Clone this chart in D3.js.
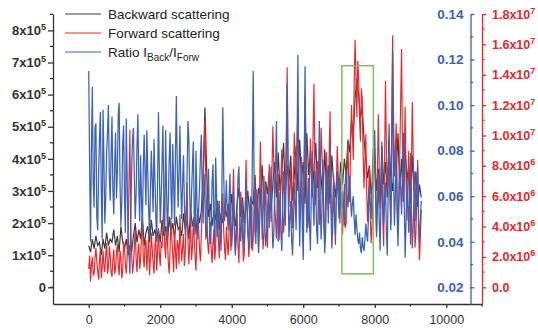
<!DOCTYPE html>
<html>
<head>
<meta charset="utf-8">
<script src="https://cdn.jsdelivr.net/npm/d3@7"></script>
<style>
  body { margin: 0; background: #fff; }
  svg { font-family: "Liberation Sans", Arial, sans-serif; }
</style>
</head>
<body>
<svg id="chart" width="538" height="330"></svg>
<script>
// sample spacing along x (index -> x = i * step)
const backStep = 50;
const fwdStep = 25;
const ratioStep = 25;

// backward scattering, units of 1e5 (left axis)
const backward = [
  1.3,1.1,1.5,1.2,1.6,1.3,1.4,1.0,1.5,1.2,1.7,1.3,1.5,
  1.4,1.8,1.3,1.6,1.1,1.9,1.4,1.2,1.5,1.0,1.3,1.1,
  1.6,2.0,1.4,1.8,1.5,2.2,1.3,1.7,1.9,1.4,2.1,1.6,1.8,1.5,
  1.8,1.4,2.1,1.6,1.9,1.3,2.2,1.7,2.0,1.5,2.2,1.8,
  1.9,1.6,2.3,1.8,2.1,1.5,2.4,1.9,2.2,1.7,2.4,2.0,
  2.4,3.5,5.6,3.6,2.2,2.6,1.9,2.4,2.1,2.7,1.8,2.3,2.0,2.5,2.2,
  2.6,2.1,2.9,2.3,1.9,2.6,3.1,2.2,2.8,2.0,2.5,3.0,2.3,2.7,
  2.6,3.5,2.3,3.1,2.8,3.8,2.5,3.3,2.9,3.6,2.4,3.2,3.9,
  2.8,4.2,3.0,3.6,4.5,2.9,3.8,3.3,4.1,2.7,3.5,4.4,
  3.0,4.6,3.4,3.9,2.6,4.8,3.5,4.2,2.8,3.7,4.5,3.1,4.0,
  3.4,2.7,4.3,3.0,3.8,2.6,4.1,3.3,2.8,3.6,3.0,3.9,
  3.2,4.0,3.5,4.6,4.2,5.2,4.8,5.9,6.5,
  6.0,5.3,5.6,4.6,4.0,3.4,3.8,2.9,3.3,
  4.1,3.0,3.7,2.6,4.4,3.2,3.9,2.8,4.5,3.4,3.0,
  4.2,3.6,4.8,3.1,4.0,2.7,4.4,3.3,3.8,2.6,4.1,3.0,3.6,2.5,3.2,2.8
];

// forward scattering, units of 1e6 (red axis)
const forward = [
  1.2,2.1,0.4,1.5,2.0,0.8,0.9,1.9,2.6,1.7,1.1,0.5,1.8,2.5,0.6,1.3,2.4,1.4,1.0,2.2,2.9,0.9,1.3,2.7,2.1,
  1.0,0.7,1.8,2.5,0.9,1.2,2.3,2.8,1.4,0.8,2.4,1.9,0.6,1.1,3.0,2.6,1.5,0.9,2.0,3.5,6.8,10.4,4.1,2.2,
  0.9,1.5,2.6,3.8,1.9,1.0,2.4,2.9,1.2,1.8,3.5,4.4,2.0,1.3,2.8,3.1,1.1,2.2,3.3,0.8,1.9,3.6,2.5,1.6,0.9,2.7,3.4,1.1,
  2.3,3.9,2.2,1.4,3.0,2.6,4.1,5.8,2.7,1.9,4.0,3.3,1.6,0.9,2.5,4.6,3.2,2.1,1.0,3.7,2.4,1.2,3.1,2.8,
  1.5,4.8,3.0,1.7,2.6,3.5,1.4,2.3,4.4,6.9,3.1,1.5,2.9,4.1,1.8,2.6,4.5,3.2,2.0,1.1,3.6,5.2,3.8,2.4,
  1.7,3.6,5.2,7.4,8.8,11.0,6.7,5.1,3.0,2.2,3.4,4.3,2.5,1.6,2.9,3.8,1.8,2.7,4.6,5.5,3.3,1.9,4.1,3.0,4.8,6.2,3.7,2.5,1.8,4.0,
  2.9,2.1,3.8,5.7,2.4,3.3,5.6,7.8,4.5,2.4,3.6,4.9,2.8,1.6,4.2,6.3,4.9,3.6,1.7,2.2,5.3,8.4,6.0,4.2,2.0,2.9,4.4,5.8,
  2.4,3.1,5.4,7.2,3.6,4.5,6.1,2.3,5.9,9.6,7.0,5.0,2.5,3.4,5.2,6.8,4.0,2.6,5.4,8.1,6.3,4.3,7.7,10.6,8.2,5.5,
  4.4,3.2,5.8,7.5,3.1,4.8,7.0,9.1,5.2,3.6,4.7,6.4,9.8,14.5,8.9,5.3,6.6,8.0,5.1,3.9,7.4,10.2,8.5,6.1,
  9.3,11.8,7.1,5.0,6.2,8.6,5.5,3.7,8.2,12.6,9.4,7.2,3.9,4.5,7.3,9.8,8.1,6.0,10.2,13.4,8.0,5.4,6.9,8.3,5.9,4.1,
  7.6,10.5,8.7,6.6,4.6,3.2,6.1,8.9,6.9,5.1,8.8,11.6,6.3,4.0,5.2,7.4,4.5,2.8,6.4,9.3,7.7,5.9,4.2,7.0,
  5.0,3.5,5.3,6.8,3.9,4.2,7.6,9.5,6.8,5.6,9.3,12.0,10.1,8.4,13.5,16.3,13.9,11.2,
  14.9,13.8,11.0,9.6,13.1,12.4,8.7,6.5,8.4,10.1,6.2,4.3,5.9,7.9,4.6,2.9,4.1,5.8,
  7.5,9.2,5.7,3.6,7.8,11.4,7.9,5.2,6.1,8.0,4.4,2.7,8.3,13.6,9.2,6.4,7.7,9.9,5.8,4.1,10.8,16.6,
  11.5,7.3,9.1,10.8,6.0,3.9,6.4,8.6,12.3,15.7,9.2,5.6,8.7,11.9,7.0,4.4,6.3,9.0,5.5,2.8,7.6,12.2,8.8,6.2,2.6,3.5,6.0,8.4,4.2,1.8,3.3,5.1
];

// ratio I_back / I_forw (blue axis)
const ratio = [
  0.115,0.072,0.040,0.081,0.108,0.066,0.055,0.090,0.092,0.051,0.045,0.070,0.085,0.097,0.062,0.041,0.098,0.075,0.048,0.060,0.079,0.088,0.100,0.069,0.058,
  0.078,0.095,0.063,0.052,0.074,0.088,0.059,0.070,0.096,0.101,0.066,0.047,0.058,0.083,0.091,0.060,0.044,0.094,0.067,0.043,0.035,0.026,0.049,0.072,
  0.085,0.090,0.068,0.050,0.061,0.082,0.096,0.064,0.049,0.078,0.059,0.045,0.072,0.087,0.070,0.056,0.089,0.071,0.055,0.042,0.063,0.080,0.067,0.053,0.085,0.068,0.052,0.040,
  0.066,0.097,0.071,0.048,0.059,0.075,0.091,0.058,0.042,0.089,0.063,0.044,0.057,0.076,0.088,0.062,0.050,0.083,0.066,0.047,0.078,0.104,0.074,0.055,
  0.070,0.091,0.064,0.050,0.066,0.078,0.057,0.043,0.054,0.069,0.093,0.085,0.060,0.046,0.061,0.073,0.084,0.052,0.043,0.080,0.058,0.041,0.055,0.064,
  0.078,0.087,0.061,0.048,0.070,0.060,0.041,0.044,0.057,0.072,0.050,0.039,0.048,0.066,0.074,0.051,0.038,0.077,0.060,0.042,0.053,0.058,0.045,0.036,0.065,0.099,0.070,0.049,0.056,0.067,
  0.052,0.045,0.058,0.070,0.049,0.038,0.047,0.062,0.044,0.034,0.041,0.055,0.068,0.073,0.052,0.040,0.047,0.058,0.042,0.036,0.050,0.066,0.055,0.043,0.039,0.052,0.060,0.037,
  0.075,0.115,0.068,0.044,0.039,0.063,0.049,0.035,0.046,0.057,0.064,0.041,0.052,0.069,0.047,0.038,0.044,0.054,0.062,0.046,0.059,0.073,0.050,0.037,0.043,0.060,
  0.072,0.093,0.058,0.040,0.051,0.062,0.044,0.036,0.055,0.071,0.062,0.047,0.074,0.109,0.065,0.042,0.050,0.058,0.041,0.034,0.047,0.066,0.057,0.045,
  0.080,0.122,0.064,0.038,0.056,0.075,0.046,0.032,0.068,0.117,0.072,0.044,0.053,0.068,0.048,0.036,0.061,0.080,0.058,0.047,0.071,0.063,0.045,0.039,0.064,0.093,
  0.057,0.041,0.055,0.076,0.049,0.035,0.044,0.060,0.071,0.048,0.063,0.082,0.055,0.037,0.048,0.066,0.052,0.043,0.059,0.071,0.060,0.050,0.068,0.058,
  0.049,0.062,0.054,0.047,0.066,0.072,0.060,0.055,0.063,0.069,0.058,0.051,0.057,0.060,0.050,0.043,0.052,0.046,
  0.041,0.039,0.044,0.037,0.035,0.042,0.038,0.036,0.041,0.048,0.043,0.040,0.052,0.064,0.056,0.050,0.066,0.078,
  0.083,0.089,0.061,0.042,0.055,0.070,0.050,0.036,0.058,0.084,0.064,0.048,0.057,0.066,0.045,0.034,0.062,0.092,0.067,0.045,0.078,0.124,
  0.070,0.047,0.060,0.081,0.052,0.038,0.054,0.072,0.063,0.052,0.070,0.088,0.056,0.033,0.049,0.067,0.058,0.044,0.061,0.079,0.052,0.037,0.046,0.062,0.071,0.049,0.060,0.074,0.051,0.040,0.048,0.058
];

const xTicks = [0, 2000, 4000, 6000, 8000, 10000];
const xMinor = [1000, 3000, 5000, 7000, 9000, 11000];
const backTicks = [0, 1, 2, 3, 4, 5, 6, 7, 8];            // x 1e5
const ratioTicks = [0.02, 0.04, 0.06, 0.08, 0.10, 0.12, 0.14];
const ratioMinor = [0.03, 0.05, 0.07, 0.09, 0.11, 0.13];
const fwdTicks = [0, 2, 4, 6, 8, 10, 12, 14, 16, 18];      // x 1e6
const fwdMinor = [1, 3, 5, 7, 9, 11, 13, 15, 17];
const highlight = { x0: 7080, x1: 7960, y0: 0.42e5, y1: 6.9e5 };

const colBlack = "#3b3b3b", colRed = "#e8262c", colBlue = "#3a62b6", colAxis = "#333";

const svg = d3.select("#chart");

const x = d3.scaleLinear([-1000, 11000], [53, 482]);
const yBack = d3.scaleLinear([-0.52e5, 8.51e5], [304, 14]);
const yRatio = d3.scaleLinear([0.01266, 0.14], [304, 14]);
const yFwd = d3.scaleLinear([-1.1e6, 1.8e7], [304, 14]);

// series
const lineBack = d3.line().x((d, i) => x(i * backStep)).y(d => yBack(d * 1e5));
const lineFwd = d3.line().x((d, i) => x(i * fwdStep)).y(d => yFwd(d * 1e6));
const lineRatio = d3.line().x((d, i) => x(i * ratioStep)).y(d => yRatio(d));

svg.append("path").attr("d", lineBack(backward))
  .attr("fill", "none").attr("stroke", colBlack).attr("stroke-width", 1.2);
svg.append("path").attr("d", lineFwd(forward))
  .attr("fill", "none").attr("stroke", colRed).attr("stroke-width", 1.15);
svg.append("path").attr("d", lineRatio(ratio))
  .attr("fill", "none").attr("stroke", colBlue).attr("stroke-width", 1.25);

// green box
svg.append("rect")
  .attr("x", x(highlight.x0)).attr("y", yBack(highlight.y1))
  .attr("width", x(highlight.x1) - x(highlight.x0))
  .attr("height", yBack(highlight.y0) - yBack(highlight.y1))
  .attr("fill", "none").attr("stroke", "#7cc35b").attr("stroke-width", 1.5);

function styleAxis(g, color) {
  g.select(".domain").attr("stroke", color).attr("stroke-width", 1.3);
  g.selectAll("line").attr("stroke", color).attr("stroke-width", 1.3);
  g.attr("font-family", null);
}

function supLabel(sel, base, exp) {
  sel.text(null);
  sel.append("tspan").text(base);
  if (exp !== null) {
    sel.append("tspan").attr("dy", -5).attr("font-size", "9px").text(exp);
  }
}

// x axis
const gx = svg.append("g").attr("transform", "translate(0,304)")
  .call(d3.axisBottom(x).tickValues(xTicks).tickSize(4).tickSizeOuter(0).tickFormat(d3.format("d")));
gx.append("g").selectAll("line").data(xMinor).join("line")
  .attr("x1", d => x(d)).attr("x2", d => x(d)).attr("y1", 0).attr("y2", 2.5);
styleAxis(gx, colAxis);
gx.selectAll(".tick text").attr("font-size", "12.5px").attr("fill", colAxis).attr("dy", "1.05em");

// left axis
const gl = svg.append("g").attr("transform", "translate(53,0)")
  .call(d3.axisLeft(yBack).tickValues(backTicks.map(d => d * 1e5)).tickSize(5).tickSizeOuter(0));
gl.append("g").selectAll("line").data(backTicks.concat([-0.5]).map(d => (d + 0.5) * 1e5)).join("line")
  .attr("x1", 0).attr("x2", -3).attr("y1", d => yBack(d)).attr("y2", d => yBack(d));
styleAxis(gl, colAxis);
gl.selectAll(".tick text").attr("font-size", "13px").attr("font-weight", "bold").attr("fill", colAxis).attr("x", -7)
  .each(function (d) {
    const v = Math.round(d / 1e5);
    if (v === 0) supLabel(d3.select(this), "0", null);
    else supLabel(d3.select(this), v + "x10", "5");
  });

// blue ratio axis
const gb = svg.append("g").attr("transform", "translate(470.5,0)")
  .call(d3.axisRight(yRatio).tickValues(ratioTicks).tickSize(4).tickSizeOuter(0));
gb.append("g").selectAll("line").data(ratioMinor).join("line")
  .attr("x1", 0).attr("x2", 2.5).attr("y1", d => yRatio(d)).attr("y2", d => yRatio(d));
styleAxis(gb, colBlue);
gb.selectAll(".tick text").attr("font-size", "13.5px").attr("font-weight", "bold").attr("fill", colBlue)
  .attr("x", -7).attr("text-anchor", "end").text(d => d.toFixed(2));

// red forward axis
const gr = svg.append("g").attr("transform", "translate(482,0)")
  .call(d3.axisRight(yFwd).tickValues(fwdTicks.map(d => d * 1e6)).tickSize(4).tickSizeOuter(0));
gr.append("g").selectAll("line").data(fwdMinor.map(d => d * 1e6)).join("line")
  .attr("x1", 0).attr("x2", 2.5).attr("y1", d => yFwd(d)).attr("y2", d => yFwd(d));
styleAxis(gr, colRed);
gr.selectAll(".tick text").attr("font-size", "12.5px").attr("font-weight", "bold").attr("fill", colRed).attr("x", 10)
  .each(function (d) {
    const m = Math.round(d / 1e6);
    if (m === 0) supLabel(d3.select(this), "0.0", null);
    else if (m < 10) supLabel(d3.select(this), m.toFixed(1) + "x10", "6");
    else supLabel(d3.select(this), (m / 10).toFixed(1) + "x10", "7");
  });

// legend
const legendItems = [
  { y: 14, color: colBlack, label: "Backward scattering" },
  { y: 33, color: colRed, label: "Forward scattering" },
  { y: 52, color: colBlue, label: null }
];
const lg = svg.append("g");
legendItems.forEach(it => {
  lg.append("line").attr("x1", 65).attr("x2", 101).attr("y1", it.y).attr("y2", it.y)
    .attr("stroke", it.color).attr("stroke-width", 1);
  const t = lg.append("text").attr("x", 108).attr("y", it.y + 5)
    .attr("font-size", "13.5px").attr("fill", "#222");
  if (it.label) t.text(it.label);
  else {
    t.append("tspan").text("Ratio I");
    t.append("tspan").attr("dy", 4).attr("font-size", "10px").text("Back");
    t.append("tspan").attr("dy", -4).text("/I");
    t.append("tspan").attr("dy", 4).attr("font-size", "10px").text("Forw");
  }
});
</script>
</body>
</html>
